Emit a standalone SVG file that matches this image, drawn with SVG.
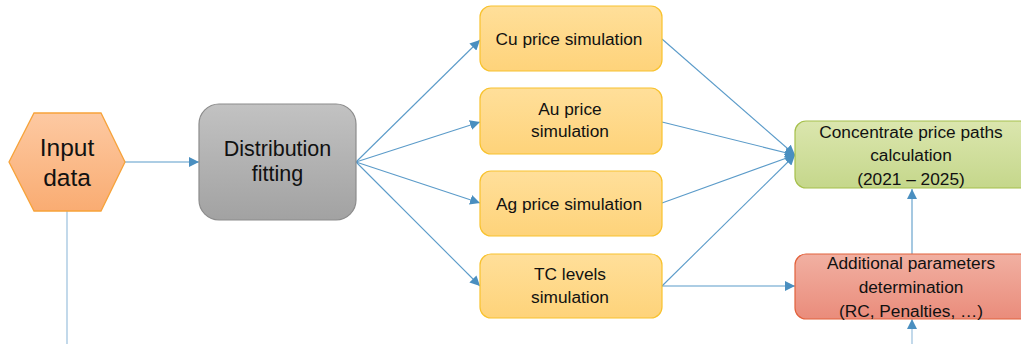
<svg xmlns="http://www.w3.org/2000/svg" width="1021" height="344" viewBox="0 0 1021 344">
  <defs>
    <linearGradient id="gOrange" x1="0" y1="0" x2="0" y2="1">
      <stop offset="0" stop-color="#fdc9a2"/>
      <stop offset="1" stop-color="#f9ac72"/>
    </linearGradient>
    <linearGradient id="gGray" x1="0" y1="0" x2="0" y2="1">
      <stop offset="0" stop-color="#c2c2c2"/>
      <stop offset="1" stop-color="#a2a2a2"/>
    </linearGradient>
    <linearGradient id="gYellow" x1="0" y1="0" x2="0" y2="1">
      <stop offset="0" stop-color="#ffdf9a"/>
      <stop offset="1" stop-color="#fed37a"/>
    </linearGradient>
    <linearGradient id="gGreen" x1="0" y1="0" x2="0" y2="1">
      <stop offset="0" stop-color="#dbe6ae"/>
      <stop offset="1" stop-color="#c5d78b"/>
    </linearGradient>
    <linearGradient id="gRed" x1="0" y1="0" x2="0" y2="1">
      <stop offset="0" stop-color="#f1b0a2"/>
      <stop offset="1" stop-color="#ea8c7b"/>
    </linearGradient>
    <marker id="arrow" viewBox="0 0 10 10" refX="10" refY="5" markerWidth="10" markerHeight="10" markerUnits="userSpaceOnUse" orient="auto">
      <path d="M0,0 L10,5 L0,10 z" fill="#4a8fc0"/>
    </marker>
  </defs>
  <style>
    .edge { fill: none; stroke: #5b9bc9; stroke-width: 1.1; }
    .edge.faint { stroke: #a9c9e2; stroke-width: 1.4; }
    .lbl { font-family: "Liberation Sans", Arial, sans-serif; fill: #111; text-anchor: middle; }
    .big { font-size: 24.5px; }
    .mid { font-size: 21.5px; }
    .sm { font-size: 17.3px; }
    .yellow { fill: url(#gYellow); stroke: #f8c22e; stroke-width: 1.2; }
  </style>

  <!-- connectors -->
  <g id="connectors">
    <line class="edge" x1="125" y1="162" x2="199" y2="162" marker-end="url(#arrow)"/>
    <line class="edge faint" x1="67" y1="211" x2="67" y2="344"/>
    <line class="edge" x1="356" y1="162" x2="480" y2="40" marker-end="url(#arrow)"/>
    <line class="edge" x1="356" y1="162" x2="480" y2="122" marker-end="url(#arrow)"/>
    <line class="edge" x1="356" y1="162" x2="480" y2="203" marker-end="url(#arrow)"/>
    <line class="edge" x1="356" y1="162" x2="480" y2="286" marker-end="url(#arrow)"/>
    <line class="edge" x1="662" y1="39" x2="795" y2="155" marker-end="url(#arrow)"/>
    <line class="edge" x1="662" y1="122" x2="795" y2="155" marker-end="url(#arrow)"/>
    <line class="edge" x1="662" y1="203" x2="795" y2="155" marker-end="url(#arrow)"/>
    <line class="edge" x1="662" y1="286" x2="795" y2="155" marker-end="url(#arrow)"/>
    <line class="edge" x1="662" y1="286" x2="795" y2="286" marker-end="url(#arrow)"/>
    <line class="edge" x1="912" y1="254" x2="912" y2="189" marker-end="url(#arrow)"/>
    <line class="edge faint" x1="912" y1="344" x2="912" y2="319" marker-end="url(#arrow)"/>
  </g>

  <!-- input -->
  <g id="input">
    <polygon points="9,162 34,113 101,113 125,162 101,211 34,211" fill="url(#gOrange)" stroke="#f7a33a" stroke-width="1.3"/>
    <text class="lbl big" x="67" y="156">Input</text>
    <text class="lbl big" x="67" y="186">data</text>
  </g>

  <g id="fitting">
    <rect x="199" y="104" width="157" height="116" rx="20" fill="url(#gGray)" stroke="#8c8c8c" stroke-width="1.2"/>
    <text class="lbl mid" x="277.5" y="156">Distribution</text>
    <text class="lbl mid" x="277.5" y="181">fitting</text>
  </g>

  <g id="cu">
    <rect class="yellow" x="480" y="6" width="182" height="65" rx="11"/>
    <text class="lbl sm" x="569" y="45">Cu price simulation</text>
  </g>

  <g id="au">
    <rect class="yellow" x="480" y="88" width="182" height="66" rx="11"/>
    <text class="lbl sm" x="570" y="115">Au price</text>
    <text class="lbl sm" x="570" y="137">simulation</text>
  </g>

  <g id="ag">
    <rect class="yellow" x="480" y="171" width="182" height="65" rx="11"/>
    <text class="lbl sm" x="569" y="210">Ag price simulation</text>
  </g>

  <g id="tc">
    <rect class="yellow" x="480" y="254" width="182" height="64" rx="11"/>
    <text class="lbl sm" x="570" y="280">TC levels</text>
    <text class="lbl sm" x="570" y="303">simulation</text>
  </g>

  <g id="concentrate">
    <rect x="795" y="121" width="236" height="67" rx="11" fill="url(#gGreen)" stroke="#a6c04c" stroke-width="1.2"/>
    <text class="lbl sm" x="911" y="138">Concentrate price paths</text>
    <text class="lbl sm" x="911" y="161">calculation</text>
    <text class="lbl sm" x="911" y="185">(2021 – 2025)</text>
  </g>

  <g id="additional">
    <rect x="795" y="254" width="236" height="65" rx="11" fill="url(#gRed)" stroke="#e2623c" stroke-width="1.2"/>
    <text class="lbl sm" x="911" y="269">Additional  parameters</text>
    <text class="lbl sm" x="911" y="293">determination</text>
    <text class="lbl sm" x="911" y="317">(RC, Penalties, …)</text>
  </g>
</svg>
